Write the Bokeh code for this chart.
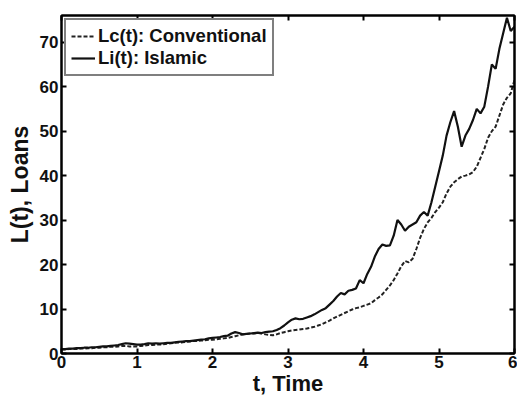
from bokeh.plotting import figure
from bokeh.models import LinearAxis, Range1d, Legend, LegendItem, FixedTicker
from bokeh.embed import file_html
from bokeh.resources import INLINE

# time grid (step 0.05 from 0 to 6)
t = [round(0.05 * i, 2) for i in range(121)]

# Li(t): Islamic
li = [1.0, 1.0, 1.1, 1.1, 1.2, 1.2, 1.3, 1.3, 1.4, 1.4,
      1.5, 1.6, 1.6, 1.7, 1.8, 1.9, 2.1, 2.3, 2.2, 2.1,
      2.0, 2.0, 2.1, 2.3, 2.2, 2.3, 2.2, 2.3, 2.4, 2.4,
      2.5, 2.6, 2.7, 2.8, 2.8, 2.9, 3.0, 3.1, 3.2, 3.4,
      3.5, 3.6, 3.7, 3.9, 4.0, 4.5, 4.8, 4.6, 4.3, 4.4,
      4.5, 4.6, 4.7, 4.6, 4.8, 4.9, 5.0, 5.3, 5.7, 6.3,
      7.0, 7.6, 7.9, 7.7, 7.8, 8.1, 8.4, 8.8, 9.3, 9.8,
      10.2, 11.0, 11.8, 12.8, 13.6, 13.3, 14.1, 14.3, 14.6, 16.5,
      15.8, 17.9, 19.5, 21.8, 23.5, 24.5, 24.2, 24.3, 26.5, 30.0,
      29.0, 27.6, 28.5, 29.0, 29.5, 31.0, 31.8, 31.0, 34.0, 37.5,
      41.0, 44.5, 49.0, 52.0, 54.5, 51.0, 46.5, 49.0, 50.5, 52.5,
      55.0, 54.0, 55.5, 60.0, 65.0, 64.0, 68.5, 72.0, 75.5, 72.5,
      73.5]

# Lc(t): Conventional
lc = [0.9, 0.9, 1.0, 1.0, 1.0, 1.1, 1.1, 1.2, 1.2, 1.3,
      1.3, 1.4, 1.4, 1.5, 1.5, 1.6, 1.7, 1.7, 1.6, 1.6,
      1.6, 1.7, 1.8, 1.9, 1.9, 2.0, 2.0, 2.1, 2.2, 2.3,
      2.4, 2.5, 2.5, 2.6, 2.7, 2.8, 2.8, 2.9, 3.0, 3.1,
      3.1, 3.2, 3.3, 3.4, 3.5, 3.7, 3.9, 4.1, 4.3, 4.4,
      4.5, 4.5, 4.6, 4.5, 4.3, 4.2, 4.1, 4.3, 4.6, 4.8,
      5.0, 5.2, 5.3, 5.4, 5.5, 5.6, 5.8, 6.0, 6.3, 6.6,
      7.0, 7.4, 7.9, 8.3, 8.7, 9.1, 9.5, 9.9, 10.2, 10.4,
      10.7, 11.0, 11.3, 12.0, 12.6, 13.3, 14.3, 15.3, 16.5, 18.0,
      19.6, 20.8, 20.5, 21.3, 23.5, 26.0, 28.0, 29.5, 30.5, 31.8,
      32.8, 34.0, 36.0, 37.5, 38.5, 39.2, 39.8, 40.0, 40.3, 40.8,
      42.0, 44.0, 46.0, 48.5, 50.0, 51.0, 53.5, 56.0, 57.5, 58.5,
      61.5]

x_ticks = [0, 1, 2, 3, 4, 5, 6]
y_ticks = [0, 10, 20, 30, 40, 50, 60, 70]

FONT = "Liberation Sans"

p = figure(width=517, height=398, output_backend="svg", toolbar_location=None,
           x_range=Range1d(0, 6), y_range=Range1d(0, 76),
           min_border_left=61, min_border_right=3, min_border_top=15, min_border_bottom=44,
           x_axis_label="t, Time", y_axis_label="L(t), Loans")
p.grid.visible = False
p.outline_line_color = "black"
p.outline_line_width = 2
p.background_fill_color = "white"
p.border_fill_color = "white"

r_c = p.line(t, lc, line_color="#222222", line_width=2, line_dash="4 2")
r_i = p.line(t, li, line_color="#111111", line_width=2.2)

for ax in (p.xaxis[0], p.yaxis[0]):
    ax.axis_line_color = "black"
    ax.axis_line_width = 2
    ax.major_tick_in = 5
    ax.major_tick_out = 0
    ax.minor_tick_line_color = None
    ax.major_tick_line_width = 2
    ax.major_label_text_font = FONT
    ax.major_label_text_font_style = "bold"
    ax.major_label_text_font_size = "17px"
    ax.major_label_text_color = "#111111"
    ax.axis_label_text_font = FONT
    ax.axis_label_text_font_style = "bold"
    ax.axis_label_text_font_size = "23px"
    ax.axis_label_text_color = "#111111"
    ax.major_label_standoff = 3

p.xaxis[0].ticker = FixedTicker(ticks=x_ticks)
p.yaxis[0].ticker = FixedTicker(ticks=y_ticks)
p.xaxis[0].axis_label_text_font_size = "22px"
p.xaxis[0].major_label_standoff = 2
p.xaxis[0].axis_label_standoff = 0
p.yaxis[0].axis_label_standoff = 4

blank_x = {v: "" for v in x_ticks}
blank_y = {v: "" for v in y_ticks}
top = LinearAxis(ticker=FixedTicker(ticks=x_ticks), major_tick_in=5, major_tick_out=0,
                 minor_tick_line_color=None, major_label_overrides=blank_x,
                 axis_line_color="black", axis_line_width=2, major_tick_line_width=2,
                 major_label_standoff=0)
right = LinearAxis(ticker=FixedTicker(ticks=y_ticks), major_tick_in=5, major_tick_out=0,
                   minor_tick_line_color=None, major_label_overrides=blank_y,
                   axis_line_color="black", axis_line_width=2, major_tick_line_width=2,
                   major_label_standoff=0)
p.add_layout(top, "above")
p.add_layout(right, "right")

legend = Legend(items=[LegendItem(label="Lc(t): Conventional", renderers=[r_c]),
                       LegendItem(label="Li(t): Islamic", renderers=[r_i])],
                location="top_left")
legend.label_text_font = FONT
legend.label_text_font_style = "bold"
legend.label_text_font_size = "18.5px"
legend.label_text_color = "#111111"
legend.border_line_color = "black"
legend.border_line_width = 2
legend.margin = 3
legend.padding = 5
legend.spacing = 0
legend.glyph_width = 24
legend.glyph_height = 20
legend.label_height = 20
legend.label_standoff = 3
legend.background_fill_alpha = 1.0
p.add_layout(legend)

open("out.html", "w").write(file_html(p, INLINE))
